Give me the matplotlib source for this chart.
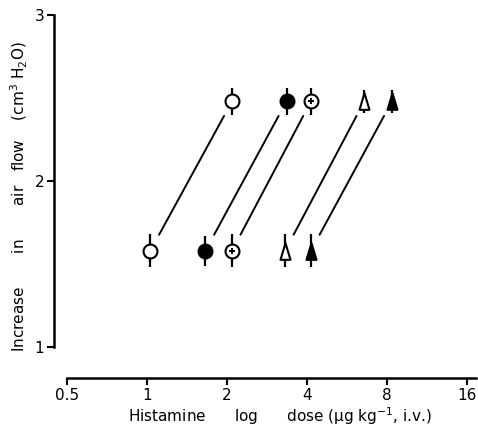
import matplotlib.pyplot as plt
from matplotlib.path import Path
from matplotlib.ticker import FixedLocator, NullLocator

# doses (ug/kg) at the low and high response for each series
x_low = [1.03, 1.66, 2.09, 3.31, 4.14]
x_high = [2.09, 3.35, 4.14, 6.57, 8.35]
y_low = [1.58, 1.58, 1.58, 1.58, 1.58]
y_high = [2.48, 2.48, 2.48, 2.48, 2.48]
err_low = [0.10, 0.09, 0.10, 0.10, 0.10]
err_high = [0.08, 0.08, 0.08, 0.07, 0.07]

x_ticks = [0.5, 1, 2, 4, 8, 16]
x_ticklabels = ['0.5', '1', '2', '4', '8', '16']
y_ticks = [1, 2, 3]

tri = Path([(-0.6, -1), (0.6, -1), (0, 1), (-0.6, -1)], closed=True)
styles = [
    dict(marker='o', mfc='white', ms=10),
    dict(marker='o', mfc='black', ms=10),
    dict(marker='o', mfc='white', ms=10),
    dict(marker=tri, mfc='white', ms=12),
    dict(marker=tri, mfc='black', ms=12),
]

fig = plt.figure(figsize=(4.78, 4.28), dpi=100)
ax = fig.add_axes([0.113, 0.117, 0.883, 0.848])

for i, st in enumerate(styles):
    xs = [x_low[i], x_high[i]]
    ys = [y_low[i], y_high[i]]
    ax.errorbar(xs, ys, yerr=[err_low[i], err_high[i]], fmt='none',
                ecolor='black', elinewidth=1.6, capsize=0, zorder=2)
    ax.plot(xs, ys, linestyle='none', mec='black', mew=1.5, zorder=3, **st)
    if i == 2:
        ax.plot(xs, ys, linestyle='none', marker='+', ms=5, mew=1.4,
                color='black', zorder=4)
    ax.annotate('', xy=(x_high[i], y_high[i]), xytext=(x_low[i], y_low[i]),
                arrowprops=dict(arrowstyle='-', lw=1.4, color='black',
                                shrinkA=13, shrinkB=12))

ax.set_xscale('log')
ax.set_xlim(0.447, 17.3)
ax.set_ylim(0.813, 3.0)
ax.xaxis.set_major_locator(FixedLocator(x_ticks))
ax.xaxis.set_minor_locator(NullLocator())
ax.set_xticklabels(x_ticklabels)
ax.set_yticks(y_ticks)

for s in ['top', 'right']:
    ax.spines[s].set_visible(False)
ax.spines['left'].set_bounds(1, 3)
ax.spines['bottom'].set_bounds(0.5, 17.3)
ax.spines['left'].set_linewidth(1.8)
ax.spines['bottom'].set_linewidth(1.8)
ax.tick_params(axis='both', direction='out', length=5, width=1.5,
               labelsize=11, pad=2)

ax.set_xlabel('Histamine      log      dose (\u00b5g kg$^{-1}$, i.v.)',
              fontsize=11)
ax.xaxis.set_label_coords(0.536, -0.075)
ax.set_ylabel('Increase       in       air   flow    (cm$^3$ H$_2$O)',
              fontsize=11)
ax.yaxis.set_label_coords(-0.058, 0.5)

fig.savefig('out.png', dpi=100)
